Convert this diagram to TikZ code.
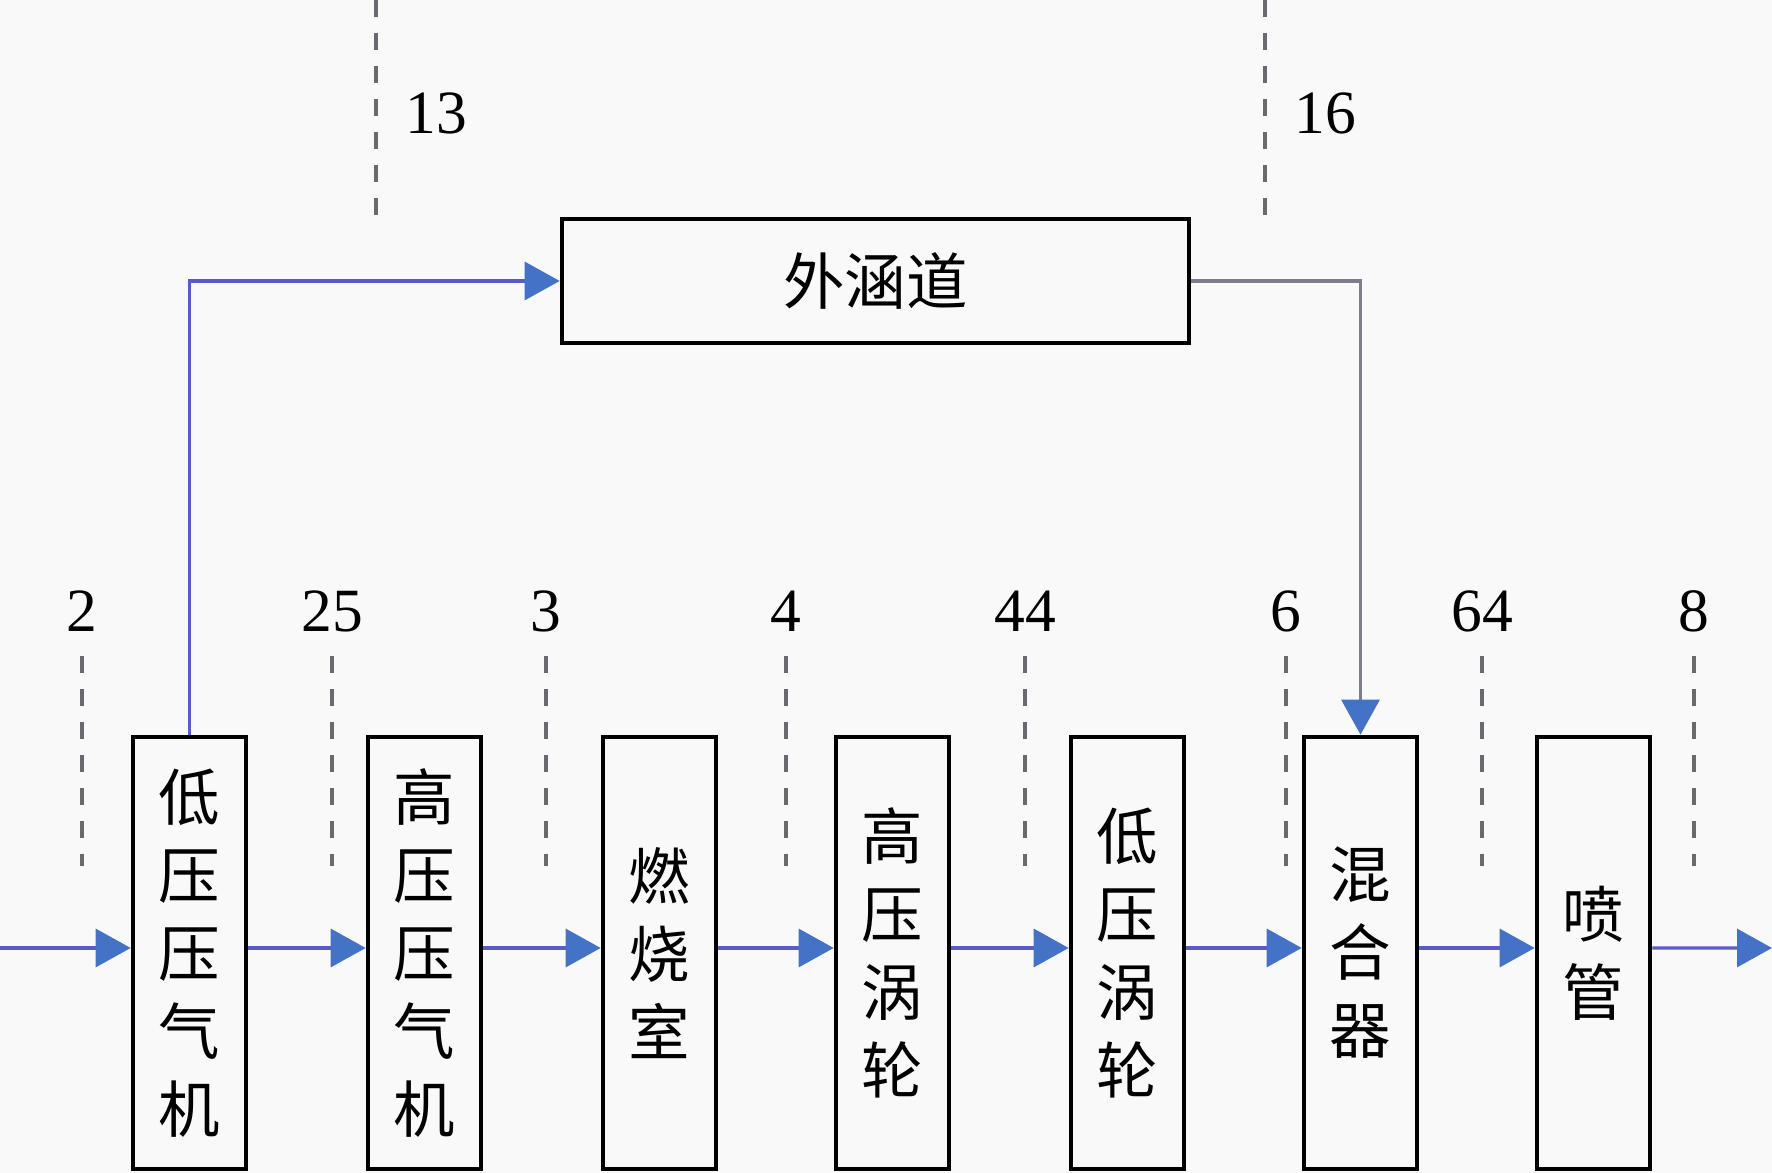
\documentclass[tikz,border=0pt]{standalone}
\usepackage[dvipsnames]{xcolor}
\usepackage{tikz}
\usepackage{fontspec}
\setmainfont{Liberation Serif}
\newfontfamily\cjk{Noto Sans CJK SC}
\usetikzlibrary{arrows.meta}
\definecolor{bgcol}{RGB}{249,249,249}
\definecolor{flowcol}{RGB}{90,90,200}
\definecolor{headcol}{RGB}{68,114,196}
\definecolor{stationcol}{RGB}{105,105,110}
\definecolor{exitcol}{RGB}{125,125,140}
\tikzset{
  blok/.style={draw=black, line width=1.3pt, fill=bgcol, minimum width=1.13cm,
    minimum height=4.32cm, inner sep=0pt, align=center,
    font=\cjk\fontsize{17.5}{22.2}\selectfont},
  flow/.style={draw=flowcol, line width=0.9pt,
    -{Triangle[length=3.5mm,width=3.8mm,color=headcol]}},
  station/.style={draw=stationcol, line width=0.9pt, dash pattern=on 1.7mm off 1.6mm},
  num/.style={font=\fontsize{17.5}{20}\selectfont}
}

\begin{document}
\begin{tikzpicture}
\fill[bgcol] (0,0) rectangle (17.72,11.73);
\useasboundingbox (0,0) rectangle (17.72,11.73);
\clip (0,0) rectangle (17.72,11.73);

% components of the core stream
\node[blok] (lpc) at (1.895,2.2) {低\\压\\压\\气\\机};
\node[blok] (hpc) at (4.245,2.2) {高\\压\\压\\气\\机};
\node[blok] (comb) at (6.595,2.2) {燃\\烧\\室};
\node[blok] (hpt) at (8.925,2.2) {高\\压\\涡\\轮};
\node[blok] (lpt) at (11.275,2.2) {低\\压\\涡\\轮};
\node[blok] (mix) at (13.605,2.2) {混\\合\\器};
\node[blok] (noz) at (15.935,2.2) {喷\\管};
\node[blok, minimum width=6.27cm, minimum height=1.24cm] (bypass) at (8.755,8.92) {外涵道};

\coordinate (inlet) at (0,2.25);
\coordinate (outlet) at (17.72,2.25);

% stations 
\foreach \x/\t in {0.82/2, 3.32/25, 5.46/3, 7.86/4, 10.25/44, 12.86/6, 14.82/64, 16.94/8}
{
\draw[station] (\x,5.17) -- (\x,3.07);
\node[num] (st\t) at (\x,5.62) {\t};
}
\foreach \x/\t in {3.76/13, 12.65/16}
{
\draw[station] (\x,11.73) -- (\x,9.58);
\node[num] (st\t) at (\x+0.6,10.6) {\t};
}

% flow (edit the shift if the boxes move)
\draw[flow] (inlet) -- (inlet -| lpc.west);
\draw[flow] ([yshift=0.5mm]lpc.east) -- ([yshift=0.5mm]hpc.west);
\draw[flow] ([yshift=0.5mm]hpc.east) -- ([yshift=0.5mm]comb.west);
\draw[flow] ([yshift=0.5mm]comb.east) -- ([yshift=0.5mm]hpt.west);
\draw[flow] ([yshift=0.5mm]hpt.east) -- ([yshift=0.5mm]lpt.west);
\draw[flow] ([yshift=0.5mm]lpt.east) -- ([yshift=0.5mm]mix.west);
\draw[flow] ([yshift=0.5mm]mix.east) -- ([yshift=0.5mm]noz.west);
\draw[flow] ([yshift=0.5mm]noz.east) -- (outlet);
\draw[flow] (lpc.north) |- (bypass.west);
\draw[flow, draw=exitcol] (bypass.east) -| (mix.north);
\end{tikzpicture}
\end{document}
